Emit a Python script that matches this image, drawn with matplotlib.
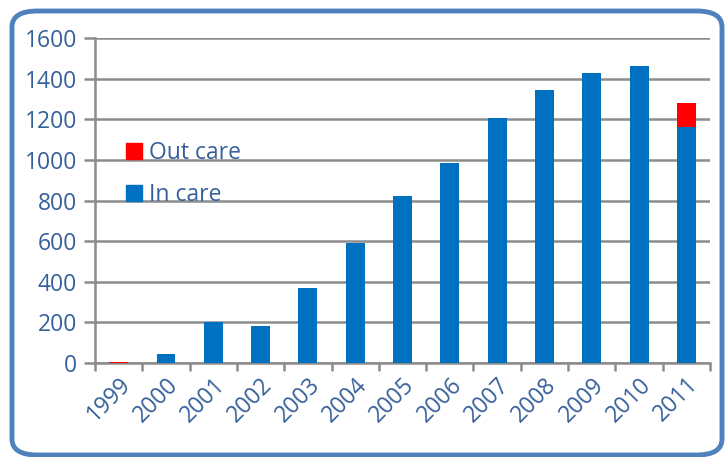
import matplotlib.pyplot as plt
from matplotlib.patches import FancyBboxPatch, Patch

years = ['1999', '2000', '2001', '2002', '2003', '2004', '2005',
         '2006', '2007', '2008', '2009', '2010', '2011']
in_care = [0, 47, 200, 183, 372, 590, 824, 985, 1205, 1342, 1430, 1460, 1160]
out_care = [5, 0, 0, 0, 0, 0, 0, 0, 0, 0, 0, 0, 122]

blue = '#0070C0'
red = '#FF0000'
text_col = '#36609A'
grid_col = '#8C8C8C'

plt.rcParams['font.family'] = ['Open Sans', 'DejaVu Sans']

fig = plt.figure(figsize=(7.28, 4.57), dpi=100)
ax = fig.add_axes([0.1305, 0.2055, 0.8448, 0.7113])

x = list(range(len(years)))
ax.bar(x, in_care, width=0.4, color=blue, zorder=3)
ax.bar(x, out_care, width=0.4, bottom=in_care, color=red, zorder=3)

ax.set_xlim(-0.5, len(years) - 0.5)
ax.set_ylim(0, 1600)
ax.set_yticks(range(0, 1601, 200))
ax.yaxis.grid(True, color=grid_col, linewidth=1.8, zorder=0)

# ticks at category boundaries, labels at centers
ax.set_xticks([i - 0.5 for i in range(len(years) + 1)])
ax.set_xticklabels([])
ax.set_xticks(x, minor=True)
ax.set_xticklabels(years, minor=True, rotation=45, ha='right',
                   rotation_mode='anchor', fontsize=16.5, color=text_col)
ax.tick_params(axis='x', which='minor', length=0, pad=7)
ax.tick_params(axis='x', which='major', length=6, width=1.8, color=grid_col)
ax.tick_params(axis='y', length=8, width=1.8, color=grid_col,
               labelsize=16.5, labelcolor=text_col, pad=5)

for s in ['top', 'right']:
    ax.spines[s].set_visible(False)
for s in ['left', 'bottom']:
    ax.spines[s].set_color(grid_col)
    ax.spines[s].set_linewidth(1.8)

handles = [Patch(color=red, label='Out care'), Patch(color=blue, label='In care')]
leg = ax.legend(handles=handles, loc='upper left', bbox_to_anchor=(0.035, 0.71),
                frameon=False, fontsize=16.5, handlelength=0.7, handleheight=0.7,
                handletextpad=0.3, labelspacing=0.75, borderaxespad=0)
for t in leg.get_texts():
    t.set_color(text_col)

# rounded border around the chart
border = FancyBboxPatch((12 / 728, 2 / 457), 710 / 728, 444 / 457,
                        boxstyle='round,pad=0,rounding_size=0.035',
                        transform=fig.transFigure, fill=False,
                        edgecolor='#4F81BD', linewidth=3.5, zorder=10)
fig.patches.append(border)

fig.savefig('out.png', dpi=100)
